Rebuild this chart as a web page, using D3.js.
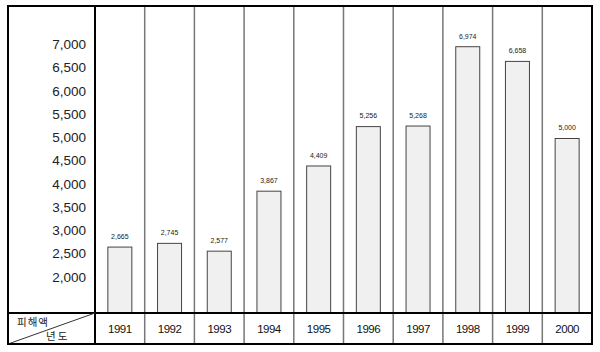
<!DOCTYPE html>
<html><head><meta charset="utf-8">
<script src="https://cdn.jsdelivr.net/npm/d3@7"></script>
<style>body{margin:0;background:#fff}svg{display:block}</style>
</head><body>
<svg id="c" width="600" height="352"></svg>
<script>
const years = ["1991","1992","1993","1994","1995","1996","1997","1998","1999","2000"];
const damage = [2665, 2745, 2577, 3867, 4409, 5256, 5268, 6974, 6658, 5000];
const yTicks = [2000, 2500, 3000, 3500, 4000, 4500, 5000, 5500, 6000, 6500, 7000];
const rowLabelTop = "피해액";
const rowLabelBottom = "년도";

const svg = d3.select("#c");
const L = 8, R = 592, T = 6, B = 344, axisX = 95, rowY = 313;
const font = "'Liberation Sans', Arial, 'Noto Sans CJK KR', sans-serif";

const x = d3.scaleBand().domain(years).range([axisX, R]).paddingInner(0).paddingOuter(0);
const y = d3.scaleLinear().domain([2000, 7000]).range([278, 45.5]);
const barW = 24;

// column separators
svg.append("g").selectAll("line").data(years.slice(1)).join("line")
  .attr("x1", d => x(d)).attr("x2", d => x(d))
  .attr("y1", T).attr("y2", B)
  .attr("stroke", "#777").attr("stroke-width", 1.5);

// bars
svg.append("g").selectAll("rect").data(damage).join("rect")
  .attr("x", (d, i) => x(years[i]) + x.bandwidth() / 2 - barW / 2)
  .attr("y", d => y(d))
  .attr("width", barW)
  .attr("height", d => rowY - y(d))
  .attr("fill", "#f0f0f0").attr("stroke", "#444").attr("stroke-width", 1);

// bar value labels
svg.append("g").selectAll("text").data(damage).join("text")
  .attr("x", (d, i) => x(years[i]) + x.bandwidth() / 2)
  .attr("y", d => y(d) - 10)
  .attr("text-anchor", "middle").attr("dominant-baseline", "middle")
  .attr("font-family", font).attr("font-size", 7).attr("fill", "#222")
  .text(d => d3.format(",")(d));

// y tick labels
svg.append("g").selectAll("text").data(yTicks).join("text")
  .attr("x", 86).attr("y", d => y(d))
  .attr("text-anchor", "end").attr("dominant-baseline", "middle")
  .attr("font-family", font).attr("font-size", 13.5).attr("fill", "#222")
  .text(d => d3.format(",")(d));

// year labels
svg.append("g").selectAll("text").data(years).join("text")
  .attr("x", d => x(d) + x.bandwidth() / 2).attr("y", 329.5)
  .attr("text-anchor", "middle").attr("dominant-baseline", "middle")
  .attr("font-family", font).attr("font-size", 11.5).attr("letter-spacing", -0.5).attr("fill", "#111")
  .text(d => d);

// row separator
svg.append("line").attr("x1", L).attr("x2", R).attr("y1", rowY).attr("y2", rowY)
  .attr("stroke", "#000").attr("stroke-width", 2);
// axis column line
svg.append("line").attr("x1", axisX).attr("x2", axisX).attr("y1", T).attr("y2", B)
  .attr("stroke", "#000").attr("stroke-width", 2);
// diagonal
svg.append("line").attr("x1", L).attr("y1", B).attr("x2", axisX).attr("y2", rowY)
  .attr("stroke", "#333").attr("stroke-width", 1);
// corner labels
svg.append("text").attr("x", 17).attr("y", 323).attr("dominant-baseline", "middle")
  .attr("font-family", "'Noto Sans CJK KR', sans-serif").attr("font-size", 10.5).attr("fill", "#222")
  .attr("letter-spacing", 1).text(rowLabelTop);
svg.append("text").attr("x", 46).attr("y", 337.5).attr("dominant-baseline", "middle")
  .attr("font-family", "'Noto Sans CJK KR', sans-serif").attr("font-size", 10.5).attr("fill", "#222")
  .attr("letter-spacing", 2).text(rowLabelBottom);

// outer border
svg.append("rect").attr("x", L).attr("y", T).attr("width", R - L).attr("height", B - T)
  .attr("fill", "none").attr("stroke", "#000").attr("stroke-width", 2);
</script>
</body></html>
